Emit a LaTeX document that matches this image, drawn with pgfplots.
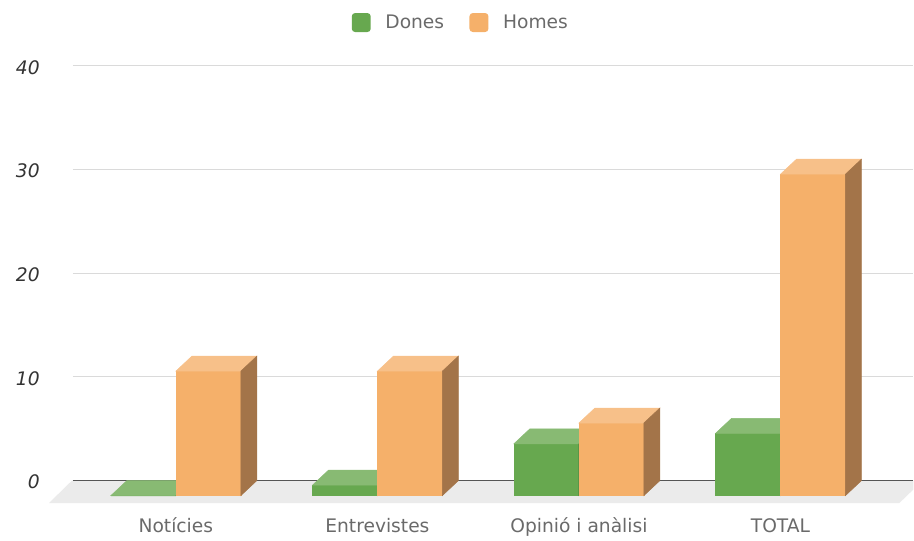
\documentclass[border=0pt]{standalone}
\usepackage{pgfplots}
\pgfplotsset{compat=1.18}
\usepackage{pgfplotstable}
\usepackage{fontspec}
\setmainfont{DejaVu Sans}

\definecolor{cDF}{HTML}{67A84F}
\definecolor{cDT}{HTML}{88BA73}
\definecolor{cDS}{HTML}{4D7E3B}
\definecolor{cHF}{HTML}{F5B06A}
\definecolor{cHT}{HTML}{F7C089}
\definecolor{cHS}{HTML}{A37449}
\definecolor{cGrid}{HTML}{DADADA}
\definecolor{cZero}{HTML}{555555}
\definecolor{cFloor}{HTML}{EBEBEB}
\definecolor{cText}{HTML}{6A6A6A}
\definecolor{cTick}{HTML}{333333}

% mark that draws nothing, the box is drawn in the scatter code
\pgfdeclareplotmark{nothing}{}

\pgfplotstableread{
cat dones homes
0   0     12
1   1     12
2   5     7
3   6     31
}\datatable

% 3D box: #1 front, #2 top, #3 side, #4 column
% 1 unit = 7.78125pt, bar width 48.75pt, depth 12pt x 11.25pt
\pgfplotsset{
  bar3d/.style n args={4}{
    only marks, scatter, mark=nothing, forget plot,
    visualization depends on={\thisrow{#4} \as \barval},
    scatter/@pre marker code/.code={%
      \pgfmathsetmacro\bh{\barval*7.78125}%
      \fill[#1] (0pt,{-\bh pt-11.25pt}) rectangle (48.75pt,-11.25pt);
      \fill[#2] (0pt,-11.25pt) -- (48.75pt,-11.25pt) -- (60.75pt,0pt) -- (12pt,0pt) -- cycle;
      \fill[#3] (48.75pt,-11.25pt) -- (60.75pt,0pt) -- (60.75pt,{-\bh pt}) -- (48.75pt,{-\bh pt-11.25pt}) -- cycle;
    },
    scatter/@post marker code/.code={},
  },
}

\begin{document}
\begin{tikzpicture}
\begin{axis}[
    scale only axis,
    width=630.75pt, height=328.125pt,
    xmin=-0.5107, xmax=3.6589,
    ymin=-2.1687, ymax=40,
    clip=false,
    axis line style={draw=none},
    major tick length=0pt,
    tick style={draw=none},
    ymajorgrids,
    grid style={cGrid, line width=0.75pt},
    ytick={0,10,20,30,40},
    yticklabels={0,10,20,30,40},
    yticklabel style={font=\fontsize{14}{16}\selectfont\itshape, text=cTick,
        anchor=east, inner sep=0pt, xshift=-24.75pt, yshift=-1pt},
    xtick={0,1,2,3},
    xticklabels={Notícies, Entrevistes, Opinió i anàlisi, TOTAL},
    xticklabel style={font=\fontsize{14}{16}\selectfont, text=cText,
        anchor=base, yshift=-22.1pt},
    legend columns=2,
    legend image code/.code={\fill[#1, draw=none, rounded corners=2.5pt] (0pt,-7.125pt) rectangle (14.25pt,7.125pt);},
    legend style={draw=none, fill=none, at={(axis description cs:0.462,1.0993)}, anchor=center,
        font=\fontsize{14}{16}\selectfont, nodes={text=cText},
        /tikz/every odd column/.append style={column sep=9pt},
        /tikz/every even column/.append style={column sep=17pt}},
]
% bounding box of the whole picture
\path (axis cs:-0.8726,46.3614) rectangle (axis cs:3.6589,-5.3976);

% floor
\addplot[fill=cFloor, draw=none, forget plot] coordinates {
    (-0.6297,-2.1687) (-0.5156,0) (3.6589,0) (3.6589,-0.8675) (3.5895,-2.1687)
} -- cycle;
\addplot[cZero, line width=1.1pt, forget plot] coordinates {(-0.5107,0) (3.6589,0)};

% bars
\addplot[bar3d={cDF}{cDT}{cDS}{dones}] table[x expr=\thisrow{cat}-0.3223, y=dones] {\datatable};
\addplot[bar3d={cHF}{cHT}{cHS}{homes}] table[x expr=\thisrow{cat}, y=homes] {\datatable};

\addlegendimage{fill=cDF}
\addlegendentry{Dones}
\addlegendimage{fill=cHF}
\addlegendentry{Homes}
\end{axis}
\end{tikzpicture}
\end{document}
